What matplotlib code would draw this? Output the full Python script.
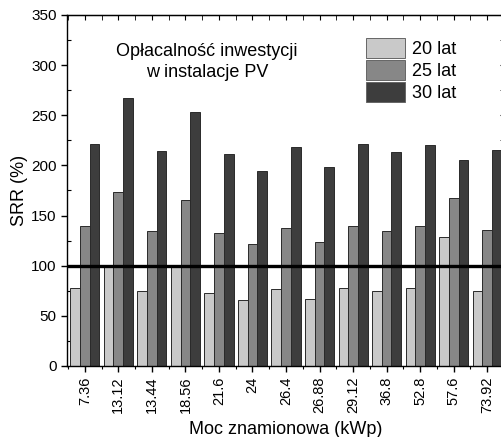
import numpy as np
import matplotlib
matplotlib.use("Agg")
import matplotlib.pyplot as plt
from matplotlib.ticker import MultipleLocator

plt.rcParams['font.family'] = ['Liberation Sans', 'DejaVu Sans']

# data
moc = ["7.36", "13.12", "13.44", "18.56", "21.6", "24", "26.4",
       "26.88", "29.12", "36.8", "52.8", "57.6", "73.92"]
srr_20 = [78, 99, 75, 99, 73, 66, 77, 67, 78, 75, 78, 129, 75]
srr_25 = [140, 173, 135, 166, 133, 122, 138, 124, 140, 135, 140, 168, 136]
srr_30 = [221, 267, 214, 253, 211, 194, 218, 198, 221, 213, 220, 205, 215]
series = [("20 lat", srr_20, "#c9c9c9"),
          ("25 lat", srr_25, "#878787"),
          ("30 lat", srr_30, "#3d3d3d")]

fig = plt.figure(figsize=(5.02, 4.37), dpi=100)
ax = fig.add_axes([0.1335, 0.1625, 0.8725, 0.8032])

x = np.arange(len(moc))
w = 0.29
for i, (name, vals, col) in enumerate(series):
    ax.bar(x + (i - 1) * w, vals, w, color=col, edgecolor="#2a2a2a",
           linewidth=0.7, label=name, zorder=2)

ax.axhline(100, color="black", lw=2.4, zorder=3)

ax.set_xlim(-0.53, 12.53)
ax.set_ylim(0, 350)
ax.set_xticks(x)
ax.set_xticklabels(moc, rotation=90, fontsize=10.5)
ax.xaxis.set_minor_locator(MultipleLocator(1, offset=0.5))
ax.yaxis.set_major_locator(MultipleLocator(50))
ax.yaxis.set_minor_locator(MultipleLocator(25))
ax.tick_params(axis="y", labelsize=11)
ax.tick_params(which="major", direction="out", length=4, width=1)
ax.tick_params(which="minor", direction="in", length=3, width=0.8)
ax.tick_params(axis="x", which="minor", direction="out", length=2.5)
for sp in ax.spines.values():
    sp.set_linewidth(1.0)

# mirrored ticks on top and right, pointing inward
top = ax.secondary_xaxis("top")
top.set_xticks(x)
top.xaxis.set_minor_locator(MultipleLocator(1, offset=0.5))
top.tick_params(which="both", direction="in", length=3.5, labeltop=False)
right = ax.secondary_yaxis("right")
right.yaxis.set_major_locator(MultipleLocator(50))
right.yaxis.set_minor_locator(MultipleLocator(25))
right.tick_params(which="both", direction="in", length=3.5, labelright=False)

ax.set_ylabel("SRR (%)", fontsize=13, labelpad=2)
ax.set_xlabel("Moc znamionowa (kWp)", fontsize=13, labelpad=6)

ax.text(0.32, 0.866, "Opłacalność inwestycji\nw instalacje PV",
        transform=ax.transAxes, ha="center", va="center", fontsize=13,
        linespacing=1.25)

leg = ax.legend(loc="upper left", bbox_to_anchor=(0.665, 0.955), frameon=False,
                fontsize=13, handlelength=2.2, handleheight=1.3,
                labelspacing=0.12, handletextpad=0.35, borderaxespad=0)
for p in leg.get_patches():
    p.set_edgecolor("#666666")

fig.savefig("out.png", dpi=100)
